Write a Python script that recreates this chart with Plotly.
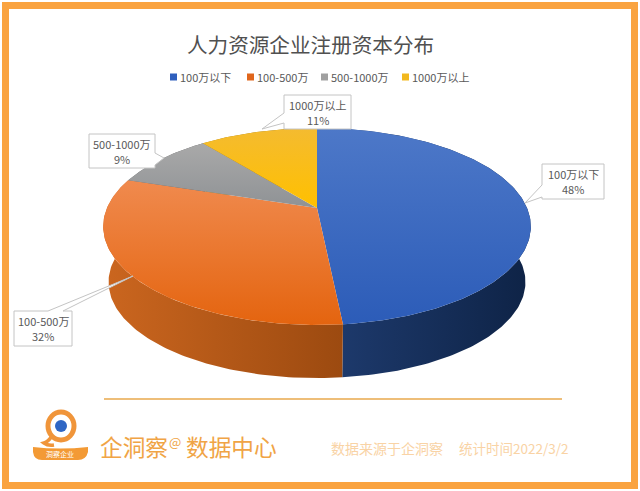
import numpy as np
import plotly.graph_objects as go

# chart data, shares estimated from the slice edges (labels show them rounded)
categories = ['100万以下', '100-500万', '500-1000万', '1000万以上']
shares = [48.4, 31.6, 9.3, 10.7]
title_text = '人力资源企业注册资本分布'
brand_parts = ['企洞察', '@', '数据中心']
source_text = '数据来源于企洞察'
date_text = '统计时间2022/3/2'

# colours
legend_colors = ['#2f5fbd', '#e0661c', '#a0a0a0', '#f2b81e']
top_colors = [['#4d78c8', '#2c5cb8'], ['#f08a4e', '#e4640f'],
              ['#a9a9a9', '#8f9295'], ['#f4bb30', '#ffc000']]
side_colors = [['#1f3c70', '#0e2346'], ['#cb661f', '#9c4a10'],
               ['#6e6e6e', '#5a5a5a'], ['#a87f10', '#8c6a0c']]
text_color = '#595959'
frame_color = '#faa340'

# pie projection, in picture pixels
CX, CY = 317, 208
QX, PY, KP = 210, 95, 0.188
BOTTOM_SCALE, BOTTOM_DROP = 0.975, 56


def rim(start, end, scale=1.0, drop=0.0):
    """points on the disc edge between two angles, clockwise from 12 o'clock"""
    n = max(int(np.degrees(end - start)), 2)
    a = np.linspace(start, end, n)
    w = 1 + KP * np.cos(a)
    x = CX + QX * np.sin(a) / w * scale
    y = CY - PY * np.cos(a) / w * scale + drop
    return x, y


fig = go.Figure()

edges = np.cumsum([0] + shares) / sum(shares) * 2 * np.pi

# side wall first so the top covers the back of it
for i, name in enumerate(categories):
    tx, ty = rim(edges[i], edges[i + 1])
    bx, by = rim(edges[i], edges[i + 1], BOTTOM_SCALE, BOTTOM_DROP)
    fig.add_trace(go.Scatter(
        x=np.r_[tx, bx[::-1], tx[0]], y=np.r_[ty, by[::-1], ty[0]],
        mode='lines', fill='toself', line=dict(width=0),
        fillgradient=dict(type='horizontal',
                          colorscale=[[0, side_colors[i][0]], [1, side_colors[i][1]]]),
        hoverinfo='skip', showlegend=False,
    ))

for i, name in enumerate(categories):
    tx, ty = rim(edges[i], edges[i + 1])
    fig.add_trace(go.Scatter(
        x=np.r_[CX, tx, CX], y=np.r_[CY, ty, CY],
        mode='lines', fill='toself', line=dict(width=0),
        # y axis runs downward, so 0 of the scale is the lower edge of the slice
        fillgradient=dict(type='vertical',
                          colorscale=[[0, top_colors[i][1]], [1, top_colors[i][0]]]),
        name=name, text=f'{name} {shares[i]:.0f}%', hoverinfo='text', showlegend=False,
    ))

# callout boxes: box left/top/right/bottom, then the tail's three points
callouts = [
    (542, 164, 604, 199, [(542, 185), (525, 203), (542, 197)]),
    (14, 311, 72, 346, [(48, 311), (133, 276), (63, 311)]),
    (89, 134, 155, 168, [(155, 153), (164, 158), (155, 165)]),
    (284, 95, 351, 129, [(284, 113), (262, 129), (284, 123)]),
]
shapes = []
annotations = []
for (x0, y0, x1, y1, tail), name, share in zip(callouts, categories, shares):
    (ax, ay), (bx, by), (cx, cy) = tail
    if x0 == ax or x0 == cx:  # tail leaves the left side
        path = f'M{x0},{y0} L{x1},{y0} L{x1},{y1} L{x0},{y1} L{cx},{cy} L{bx},{by} L{ax},{ay} Z'
    elif y0 == ay:  # tail leaves the top
        path = f'M{x0},{y0} L{ax},{ay} L{bx},{by} L{cx},{cy} L{x1},{y0} L{x1},{y1} L{x0},{y1} Z'
    else:  # tail leaves the right side
        path = f'M{x0},{y0} L{x1},{y0} L{ax},{ay} L{bx},{by} L{cx},{cy} L{x1},{y1} L{x0},{y1} Z'
    shapes.append(dict(type='path', path=path, fillcolor='white',
                       line=dict(color='#c4c4c4', width=1), layer='above'))
    mid_x, mid_y = (x0 + x1) / 2, (y0 + y1) / 2
    annotations.append(dict(x=mid_x, y=mid_y - 7.5, text=name, showarrow=False,
                            font=dict(size=11, color=text_color)))
    annotations.append(dict(x=mid_x, y=mid_y + 7.5, text=f'{share:.0f}%', showarrow=False,
                            font=dict(size=11, color=text_color)))

# legend row
legend_x = [173.5, 250.5, 324.5, 405.5]
fig.add_trace(go.Scatter(
    x=legend_x, y=[77] * 4, mode='markers',
    marker=dict(symbol='square', size=7, color=legend_colors),
    hoverinfo='skip', showlegend=False,
))
for lx, name in zip(legend_x, categories):
    annotations.append(dict(x=lx + 4.5, y=77, text=name, xanchor='left', showarrow=False,
                            font=dict(size=11, color=text_color)))

annotations.append(dict(x=310, y=44, text=title_text, showarrow=False,
                        font=dict(size=20.6, color='#505050')))
annotations.append(dict(x=98, y=446, text=brand_parts[0], xanchor='left', showarrow=False,
                        font=dict(size=22.7, color='#f0a445')))
annotations.append(dict(x=167, y=441, text=brand_parts[1], xanchor='left', showarrow=False,
                        font=dict(size=13, color='#f0a445')))
annotations.append(dict(x=184, y=446, text=brand_parts[2], xanchor='left', showarrow=False,
                        font=dict(size=22.7, color='#f0a445')))
annotations.append(dict(x=329, y=448, text=source_text, xanchor='left', showarrow=False,
                        font=dict(size=14, color='#f9d3a5')))
annotations.append(dict(x=457, y=448, text=date_text, xanchor='left', showarrow=False,
                        font=dict(size=13.5, color='#f9d3a5')))
annotations.append(dict(x=60, y=454, text='洞察企业', showarrow=False,
                        font=dict(size=7, color='white')))

# page frame, footer rule and logo
shapes += [
    dict(type='rect', x0=5.5, y0=5.5, x1=634.5, y1=485.5, line=dict(color=frame_color, width=7)),
    dict(type='line', x0=104, y0=399, x1=562, y1=399, line=dict(color='#e8a84c', width=1.5)),
    dict(type='path', path='M33,447 Q60,450 88,447 L88,452 Q86,460 78,460 L42,460 Q34,460 33,452 Z',
         fillcolor='#f39a35', line=dict(width=0)),
    dict(type='path', path='M52,436 Q48,442 44,443 Q48,446 54,445',
         line=dict(color='#f0953a', width=3.5)),
    dict(type='circle', x0=48, y0=412, x1=74, y1=440, fillcolor='white',
         line=dict(color='#f0953a', width=5)),
    dict(type='circle', x0=55, y0=420, x1=67, y1=432, fillcolor='#2f66c4', line=dict(width=0)),
]

fig.update_layout(
    width=640, height=491,
    margin=dict(l=0, r=0, t=0, b=0),
    paper_bgcolor='white', plot_bgcolor='white',
    font=dict(family='Noto Sans CJK SC'),
    xaxis=dict(range=[0, 640], visible=False),
    yaxis=dict(range=[491, 0], visible=False),
    shapes=shapes, annotations=annotations,
)

fig.write_html('out.html', config={'displayModeBar': False},
               post_script="document.body.style.margin='0';")
